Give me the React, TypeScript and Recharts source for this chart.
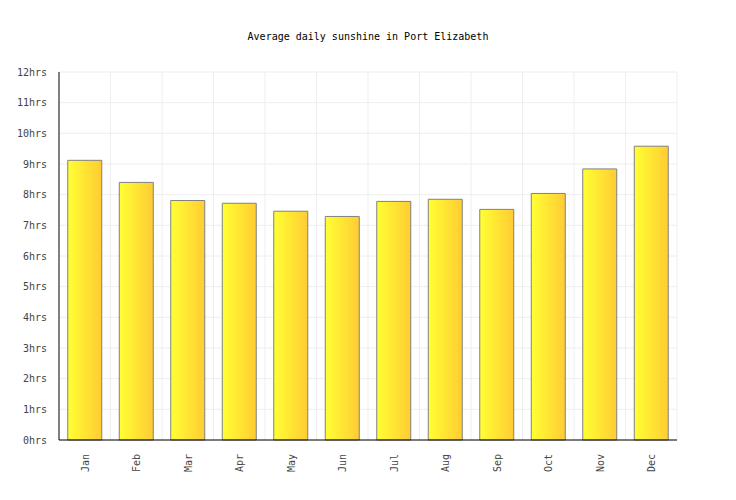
import React from 'react';
import { BarChart, Bar, XAxis, YAxis, CartesianGrid } from 'recharts';

const months = ['Jan', 'Feb', 'Mar', 'Apr', 'May', 'Jun', 'Jul', 'Aug', 'Sep', 'Oct', 'Nov', 'Dec'];
const sunshineHours = [9.12, 8.4, 7.81, 7.72, 7.46, 7.29, 7.78, 7.85, 7.52, 8.04, 8.84, 9.58];
const yTicks = [0, 1, 2, 3, 4, 5, 6, 7, 8, 9, 10, 11, 12];

const data = months.map((m, i) => ({ month: m, hours: sunshineHours[i] }));

const FONT = '"DejaVu Sans Mono", "Liberation Mono", monospace';

const XTick = (props: any) => {
  const { x, y, payload } = props;
  return (
    <g transform={`translate(${x},${y + 6})`}>
      <text
        transform="rotate(-90)"
        textAnchor="end"
        dy={4}
        fontFamily={FONT}
        fontSize={10}
        fill="#444"
      >
        {payload.value}
      </text>
    </g>
  );
};

export default function App() {
  return (
    <div style={{ position: 'absolute', left: 0, top: 0, width: 736, height: 500, background: '#fff' }}>
      <div
        style={{
          position: 'absolute',
          top: 31,
          left: 0,
          width: 736,
          textAlign: 'center',
          fontFamily: FONT,
          fontSize: 10,
          color: '#000',
        }}
      >
        Average daily sunshine in Port Elizabeth
      </div>
      <BarChart
        width={736}
        height={500}
        data={data}
        margin={{ top: 72, right: 59, bottom: 0, left: 0 }}
        barCategoryGap="17%"
      >
        <defs>
          <linearGradient id="sunGrad" x1="0" y1="0" x2="1" y2="0">
            <stop offset="0%" stopColor="#ffff33" />
            <stop offset="100%" stopColor="#ffcc33" />
          </linearGradient>
        </defs>
        <CartesianGrid
          stroke="#eeeeee"
          verticalCoordinatesGenerator={({ offset }: any) =>
            months.map((_, i) => offset.left + ((i + 1) * offset.width) / months.length)
          }
        />
        <XAxis
          dataKey="month"
          height={60}
          tickLine={false}
          axisLine={{ stroke: '#000' }}
          tick={<XTick />}
          interval={0}
        />
        <YAxis
          width={59}
          domain={[0, 12]}
          ticks={yTicks}
          tickLine={false}
          axisLine={{ stroke: '#000' }}
          tickFormatter={(v: number) => `${v}hrs`}
          tick={{ fontFamily: FONT, fontSize: 10, fill: '#444' }}
          tickMargin={6}
          interval={0}
        />
        <Bar dataKey="hours" fill="url(#sunGrad)" stroke="#808080" strokeWidth={1} isAnimationActive={false} />
      </BarChart>
    </div>
  );
}
